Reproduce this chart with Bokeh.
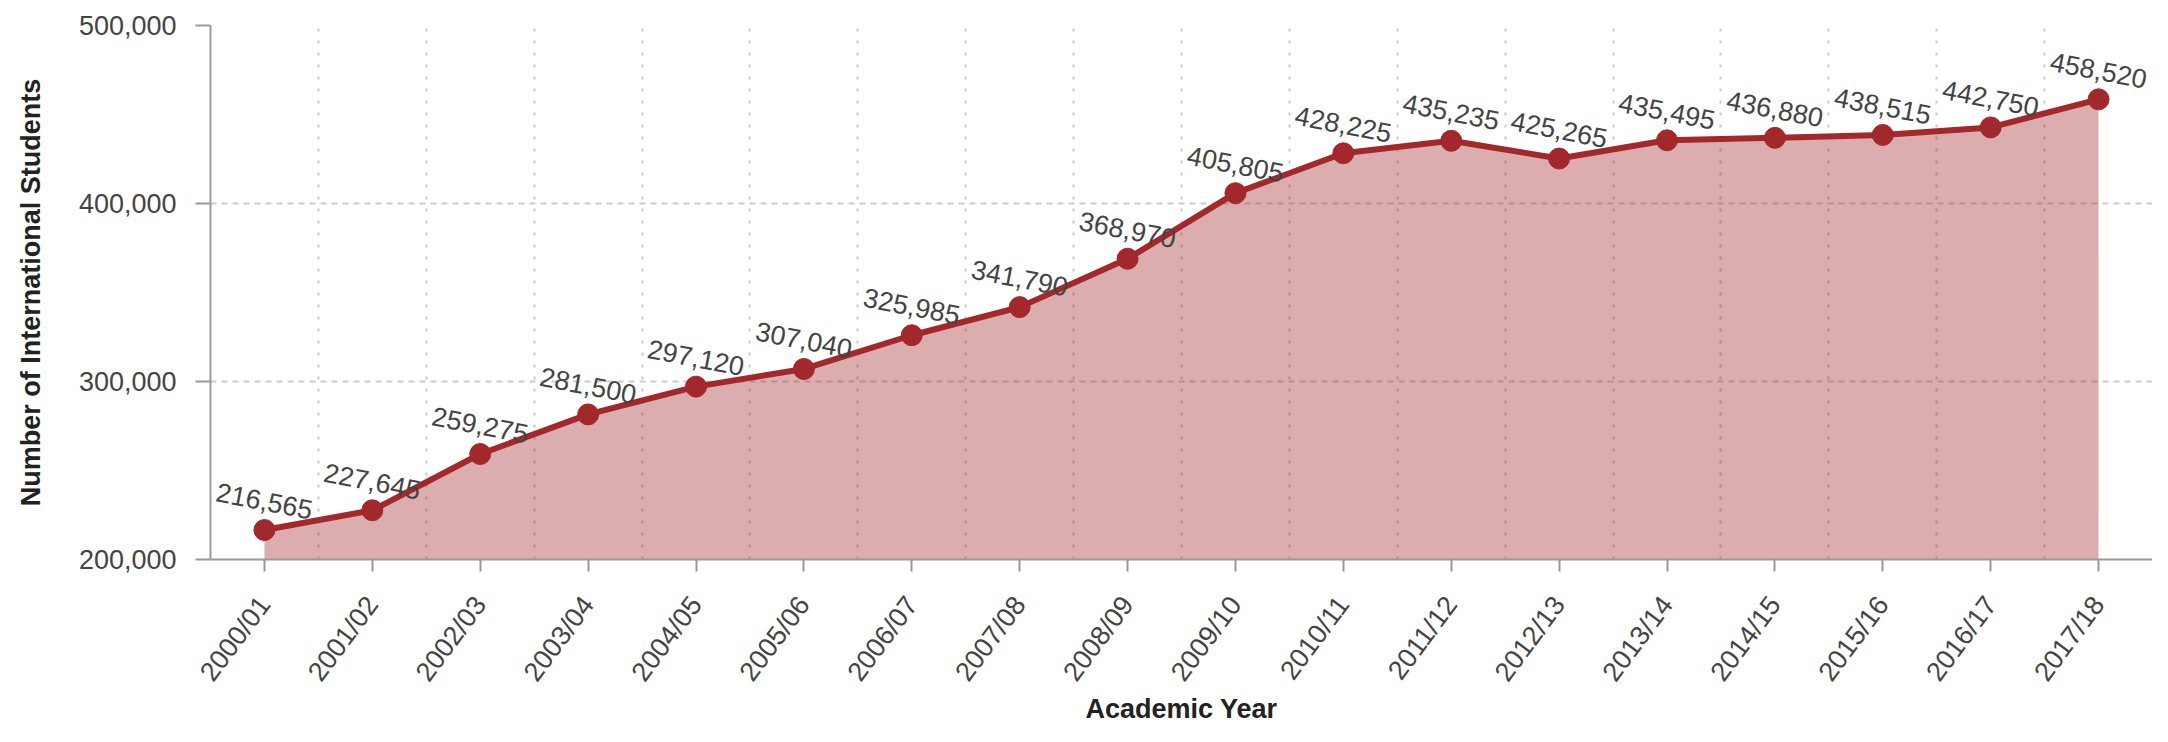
from bokeh.plotting import figure
from bokeh.models import (ColumnDataSource, FixedTicker, NumeralTickFormatter, Range1d,
                          LabelSet, Grid)
from bokeh.core.properties import value
from bokeh.embed import file_html
from bokeh.resources import INLINE

years = ["2000/01", "2001/02", "2002/03", "2003/04", "2004/05", "2005/06", "2006/07",
         "2007/08", "2008/09", "2009/10", "2010/11", "2011/12", "2012/13", "2013/14",
         "2014/15", "2015/16", "2016/17", "2017/18"]
students = [216565, 227645, 259275, 281500, 297120, 307040, 325985, 341790, 368970,
            405805, 428225, 435235, 425265, 435495, 436880, 438515, 442750, 458520]
y_ticks = [200000, 300000, 400000, 500000]
x_title = "Academic Year"
y_title = "Number of International Students"

idx = list(range(len(years)))
labels = [f"{v:,}" for v in students]
base = [y_ticks[0]] * len(years)

src = ColumnDataSource(dict(x=idx, y=students, base=base, lab=labels))

FONT = "Liberation Sans"
RED = "#a3282b"
FS = "27px"

p = figure(width=2152, height=726, output_backend="svg", toolbar_location=None,
           x_range=Range1d(-0.5, len(years) - 0.5), y_range=Range1d(y_ticks[0], y_ticks[-1]),
           min_border_left=210, min_border_right=0, min_border_top=25, min_border_bottom=163)
p.outline_line_color = None
p.background_fill_color = "white"

# grids
p.xgrid.visible = False
p.ygrid.ticker = FixedTicker(ticks=y_ticks[1:])
p.ygrid.grid_line_color = "#cccccc"
p.ygrid.grid_line_width = 2
p.ygrid.grid_line_dash = "6 5"
vgrid = Grid(dimension=0, ticker=FixedTicker(ticks=[i + 0.5 for i in idx]),
             grid_line_color="#c8c8c8", grid_line_width=2, grid_line_dash="3 9")
p.add_layout(vgrid)

p.varea(x="x", y1="base", y2="y", source=src, fill_color=RED, fill_alpha=0.38)
p.line(x="x", y="y", source=src, line_color=RED, line_width=6)
p.scatter(x="x", y="y", source=src, size=21, fill_color=RED, line_color=RED)

p.add_layout(LabelSet(x="x", y="y", text="lab", source=src, text_align="center",
                      text_baseline="middle", y_offset=29, angle=-0.19,
                      text_font=value(FONT), text_font_size=value(FS),
                      text_color="#444444"))

# axes
for ax in (p.xaxis[0], p.yaxis[0]):
    ax.axis_line_color = "#999999"
    ax.axis_line_width = 2
    ax.major_tick_line_color = "#999999"
    ax.major_tick_line_width = 2
    ax.minor_tick_line_color = None
    ax.major_tick_in = 0
    ax.major_label_text_font = FONT
    ax.major_label_text_font_size = FS
    ax.major_label_text_color = "#444444"
    ax.axis_label_text_font = FONT
    ax.axis_label_text_font_style = "bold"
    ax.axis_label_text_font_size = FS
    ax.axis_label_text_color = "#222222"

p.yaxis.ticker = FixedTicker(ticks=y_ticks)
p.yaxis.formatter = NumeralTickFormatter(format="0,0")
p.yaxis.major_tick_out = 15
p.yaxis.major_label_standoff = 19
p.yaxis.axis_label = y_title
p.yaxis.axis_label_standoff = 30

p.xaxis.ticker = FixedTicker(ticks=idx)
p.xaxis.major_label_overrides = {i: y for i, y in zip(idx, years)}
p.xaxis.major_label_orientation = 0.93
p.xaxis.major_tick_out = 12
p.xaxis.major_label_standoff = 28
p.xaxis.axis_label = x_title
p.xaxis.axis_label_standoff = -5

open("out.html", "w").write(file_html(p, INLINE))
